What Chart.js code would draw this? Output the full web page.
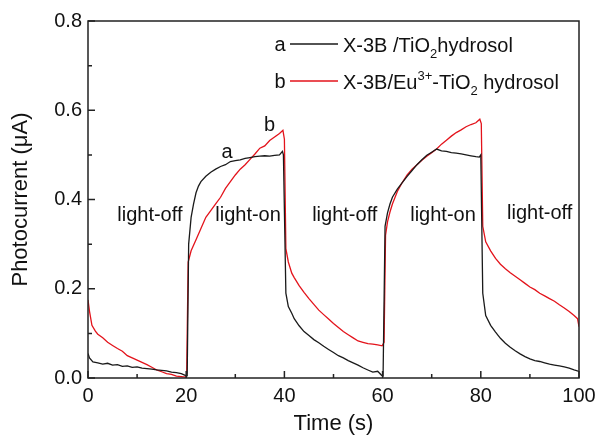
<!DOCTYPE html>
<html lang="en">
  <head>
    <meta charset="UTF-8" />
    <title>Photocurrent response</title>
    <script src="https://cdn.jsdelivr.net/npm/chart.js"></script>
    <style>
      html, body { margin: 0; padding: 0; background: #fff; }
      .chart-wrapper { width: 597px; height: 441px; }
    </style>
  </head>
  <body>
    <div class="chart-wrapper">
      <canvas id="photoChart"></canvas>
    </div>

    <script>
      // curve a : X-3B / TiO2 hydrosol
      var timeA = [0, 0.3, 1, 2, 3, 4, 5, 6, 7, 8, 9, 10, 11, 12, 13, 14, 15, 16, 17, 18, 19, 19.8,
        20.2, 20.5, 21, 21.5, 22, 22.5, 23, 24, 25, 26, 27, 28, 29, 30, 31, 32, 33, 34, 35, 36, 37, 38, 39, 39.6, 39.8,
        40.3, 40.8, 41.5, 42, 43, 44, 45, 46, 47, 48, 49, 50, 51, 52, 53, 54, 55, 56, 57, 58, 59, 59.8,
        60.1, 60.5, 61, 61.5, 62, 63, 64, 65, 66, 67, 68, 69, 70, 71, 72, 73, 74, 75, 76, 77, 78, 79, 79.7, 80,
        80.4, 81, 82, 83, 84, 85, 86, 87, 88, 89, 90, 91, 92, 93, 94, 95, 96, 97, 98, 99, 100];
      var currentA = [0.055, 0.045, 0.036, 0.034, 0.031, 0.033, 0.029, 0.030, 0.026, 0.027, 0.024, 0.025, 0.022, 0.021, 0.020, 0.018, 0.017, 0.016, 0.013, 0.012, 0.010, 0.006,
        0.005, 0.30, 0.36, 0.39, 0.415, 0.43, 0.44, 0.452, 0.461, 0.468, 0.474, 0.478, 0.485, 0.487, 0.489, 0.492, 0.494, 0.496, 0.497, 0.498, 0.497, 0.499, 0.500, 0.508, 0.500,
        0.19, 0.16, 0.145, 0.133, 0.117, 0.104, 0.095, 0.086, 0.079, 0.071, 0.064, 0.057, 0.050, 0.045, 0.039, 0.034, 0.029, 0.023, 0.018, 0.013, 0.015, 0.006,
        0.005, 0.34, 0.37, 0.39, 0.405, 0.423, 0.438, 0.452, 0.465, 0.478, 0.489, 0.499, 0.506, 0.513, 0.509, 0.508, 0.505, 0.504, 0.502, 0.500, 0.498, 0.496, 0.495, 0.500,
        0.19, 0.14, 0.118, 0.103, 0.089, 0.078, 0.069, 0.061, 0.054, 0.048, 0.043, 0.039, 0.037, 0.034, 0.031, 0.029, 0.027, 0.025, 0.022, 0.018, 0.015];

      // curve b : X-3B / Eu3+-TiO2 hydrosol
      var timeB = [0, 0.3, 0.8, 1.5, 2, 3, 4, 5, 6, 7, 8, 9, 10, 11, 12, 13, 14, 15, 16, 17, 18, 19, 19.9,
        20.1, 20.4, 21, 22, 23, 24, 25, 26, 27, 28, 29, 30, 31, 32, 33, 34, 35, 36, 37, 38, 39, 39.7, 40,
        40.3, 40.8, 41.5, 42, 43, 44, 45, 46, 47, 48, 49, 50, 51, 52, 53, 54, 55, 56, 57, 58, 59, 59.9,
        60.3, 60.6, 61, 61.5, 62, 63, 64, 65, 66, 67, 68, 69, 70, 71, 72, 73, 74, 75, 76, 77, 78, 79, 79.8, 80.1,
        80.4, 81, 82, 83, 84, 85, 86, 87, 88, 89, 90, 91, 92, 93, 94, 95, 96, 97, 98, 99, 99.7, 100];
      var currentB = [0.175, 0.15, 0.118, 0.105, 0.098, 0.090, 0.080, 0.073, 0.066, 0.060, 0.050, 0.045, 0.040, 0.035, 0.030, 0.024, 0.018, 0.014, 0.010, 0.008, 0.004, 0.003, 0.002,
        0.010, 0.26, 0.285, 0.31, 0.335, 0.36, 0.375, 0.39, 0.405, 0.425, 0.44, 0.455, 0.468, 0.478, 0.49, 0.502, 0.515, 0.52, 0.532, 0.54, 0.548, 0.555, 0.535,
        0.29, 0.26, 0.235, 0.225, 0.207, 0.192, 0.178, 0.165, 0.152, 0.142, 0.132, 0.122, 0.113, 0.104, 0.097, 0.090, 0.083, 0.080, 0.077, 0.076, 0.074, 0.072,
        0.08, 0.32, 0.35, 0.372, 0.39, 0.418, 0.438, 0.455, 0.468, 0.478, 0.488, 0.497, 0.505, 0.513, 0.524, 0.533, 0.542, 0.55, 0.556, 0.563, 0.568, 0.572, 0.58, 0.57,
        0.34, 0.305, 0.285, 0.268, 0.255, 0.245, 0.236, 0.228, 0.22, 0.212, 0.204, 0.198, 0.19, 0.184, 0.178, 0.172, 0.164, 0.157, 0.149, 0.14, 0.133, 0.115];

      var xTicks = [0, 20, 40, 60, 80, 100];
      var yTicks = [0.0, 0.2, 0.4, 0.6, 0.8];

      // text labels placed in data coordinates
      var notes = [
        { text: "light-off", x: 12.6, y: 0.365 },
        { text: "light-on", x: 32.6, y: 0.365 },
        { text: "light-off", x: 52.3, y: 0.365 },
        { text: "light-on", x: 72.3, y: 0.365 },
        { text: "light-off", x: 92.0, y: 0.369 },
        { text: "a", x: 28.3, y: 0.506 },
        { text: "b", x: 37.0, y: 0.565 }
      ];

      function toPoints(xs, ys) {
        var pts = [];
        for (var i = 0; i < xs.length; i++) {
          pts.push({ x: xs[i], y: ys[i] });
        }
        return pts;
      }

      var FONT = "Arial, 'Liberation Sans', sans-serif";

      var framePlugin = {
        id: "frame",
        afterDraw: function (chart) {
          var ctx = chart.ctx;
          var a = chart.chartArea;
          var xs = chart.scales.x;
          var ys = chart.scales.y;
          ctx.save();
          ctx.strokeStyle = "#222";
          ctx.lineWidth = 1.5;
          ctx.strokeRect(a.left, a.top, a.right - a.left, a.bottom - a.top);

          // inward ticks
          ctx.beginPath();
          for (var v = 0; v <= 100; v += 10) {
            var px = xs.getPixelForValue(v);
            var len = v % 20 === 0 ? 7 : 4;
            ctx.moveTo(px, a.bottom);
            ctx.lineTo(px, a.bottom - len);
          }
          for (var k = 0; k <= 8; k++) {
            var py = ys.getPixelForValue(k / 10);
            var len2 = k % 2 === 0 ? 7 : 4;
            ctx.moveTo(a.left, py);
            ctx.lineTo(a.left + len2, py);
          }
          ctx.stroke();

          // annotations
          ctx.fillStyle = "#111";
          ctx.font = "20px " + FONT;
          ctx.textAlign = "center";
          ctx.textBaseline = "middle";
          notes.forEach(function (n) {
            ctx.fillText(n.text, xs.getPixelForValue(n.x), ys.getPixelForValue(n.y));
          });

          // legend
          var rows = [
            { key: "a", color: "#1a1a1a", y: 44, parts: [["X-3B /TiO", 0], ["2", 1], ["hydrosol", 0]] },
            { key: "b", color: "#e3131b", y: 81, parts: [["X-3B/Eu", 0], ["3+", -1], ["-TiO", 0], ["2", 1], [" hydrosol", 0]] }
          ];
          rows.forEach(function (r) {
            ctx.font = "20px " + FONT;
            ctx.textAlign = "center";
            ctx.fillText(r.key, 280, r.y + 1);
            ctx.strokeStyle = r.color;
            ctx.lineWidth = 1.5;
            ctx.beginPath();
            ctx.moveTo(290, r.y);
            ctx.lineTo(338, r.y);
            ctx.stroke();
            var cx = 343;
            ctx.textAlign = "left";
            ctx.textBaseline = "alphabetic";
            r.parts.forEach(function (p) {
              var dy = 0;
              if (p[1] === 0) {
                ctx.font = "20px " + FONT;
              } else {
                ctx.font = "13px " + FONT;
                dy = p[1] > 0 ? 6 : -9;
              }
              ctx.fillText(p[0], cx, r.y + 8 + dy);
              cx += ctx.measureText(p[0]).width;
            });
            ctx.textBaseline = "middle";
          });
          ctx.restore();
        }
      };

      var ctx = document.getElementById("photoChart").getContext("2d");

      var chart = new Chart(ctx, {
        type: "scatter",
        data: {
          datasets: [
            {
              label: "a",
              data: toPoints(timeA, currentA),
              showLine: true,
              borderColor: "#1a1a1a",
              borderWidth: 1.3,
              pointRadius: 0,
              tension: 0
            },
            {
              label: "b",
              data: toPoints(timeB, currentB),
              showLine: true,
              borderColor: "#e3131b",
              borderWidth: 1.3,
              pointRadius: 0,
              tension: 0
            }
          ]
        },
        options: {
          responsive: true,
          maintainAspectRatio: false,
          animation: false,
          layout: { padding: { left: 0, top: 21, right: 18, bottom: 0 } },
          plugins: {
            legend: { display: false },
            tooltip: { enabled: false }
          },
          scales: {
            x: {
              type: "linear",
              min: 0,
              max: 100,
              afterBuildTicks: function (scale) {
                scale.ticks = xTicks.map(function (v) { return { value: v }; });
              },
              afterFit: function (scale) {
                scale.height = 63;
                scale.paddingLeft = 0;
                scale.paddingRight = 0;
              },
              grid: { display: false, drawTicks: false },
              border: { display: false },
              ticks: {
                color: "#111",
                padding: 6,
                maxRotation: 0,
                font: { size: 20, family: FONT }
              },
              title: {
                display: true,
                text: "Time (s)",
                color: "#111",
                padding: { top: 0, bottom: 4 },
                font: { size: 22, family: FONT }
              }
            },
            y: {
              type: "linear",
              min: 0,
              max: 0.8,
              afterBuildTicks: function (scale) {
                scale.ticks = yTicks.map(function (v) { return { value: v }; });
              },
              afterFit: function (scale) {
                scale.width = 88;
                scale.paddingTop = 0;
                scale.paddingBottom = 0;
              },
              grid: { display: false, drawTicks: false },
              border: { display: false },
              ticks: {
                color: "#111",
                padding: 6,
                font: { size: 20, family: FONT },
                callback: function (value) { return Number(value).toFixed(1); }
              },
              title: {
                display: true,
                text: "Photocurrent (\u03bcA)",
                color: "#111",
                padding: { top: 8, bottom: 0 },
                font: { size: 22, family: FONT }
              }
            }
          }
        },
        plugins: [framePlugin]
      });
    </script>
  </body>
</html>
